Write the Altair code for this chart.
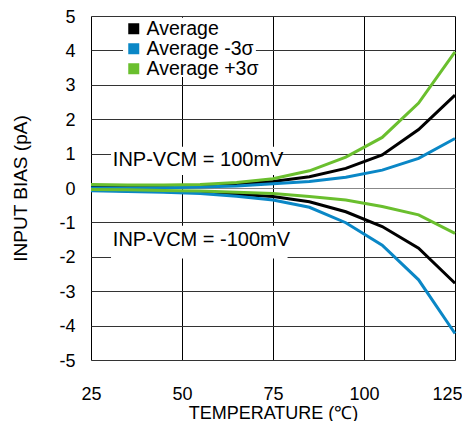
import altair as alt
import pandas as pd

temps = [25, 35, 45, 55, 65, 75, 85, 95, 105, 115, 125]
series_names = ["Average", "Average -3σ", "Average +3σ"]
colors = ["#000000", "#0a87c6", "#6abf2e"]

# INP-VCM = 100mV
pos_avg = [0.03, 0.03, 0.04, 0.06, 0.11, 0.19, 0.33, 0.57, 0.96, 1.70, 2.70]
pos_m3 = [0.00, 0.00, 0.01, 0.03, 0.06, 0.12, 0.19, 0.31, 0.52, 0.86, 1.44]
pos_p3 = [0.10, 0.09, 0.09, 0.10, 0.16, 0.27, 0.50, 0.90, 1.47, 2.47, 3.96]
# INP-VCM = -100mV
neg_avg = [-0.06, -0.08, -0.10, -0.13, -0.18, -0.25, -0.40, -0.69, -1.12, -1.75, -2.77]
neg_m3 = [-0.08, -0.10, -0.12, -0.16, -0.24, -0.35, -0.56, -1.01, -1.66, -2.67, -4.23]
neg_p3 = [-0.04, -0.05, -0.07, -0.09, -0.12, -0.16, -0.25, -0.35, -0.54, -0.78, -1.32]

x_ticks = [25, 50, 75, 100, 125]
y_ticks = [-5, -4, -3, -2, -1, 0, 1, 2, 3, 4, 5]

annot_text = ["INP-VCM = 100mV", "INP-VCM = -100mV"]
annot_x = [31, 31]
annot_y = [0.81, -1.51]
# white backgrounds behind the annotations and the legend
box_x = [30.5, 30.5, 33.8]
box_x2 = [76.5, 79, 70.3]
box_y = [0.38, -1.1, 3.23]
box_y2 = [1.2, -2.05, 4.95]

rows = []
for grp, vals in [("pos", [pos_avg, pos_m3, pos_p3]), ("neg", [neg_avg, neg_m3, neg_p3])]:
    for name, ys in zip(series_names, vals):
        for t, v in zip(temps, ys):
            rows.append({"T": t, "I": v, "series": name, "grp": grp})
df = pd.DataFrame(rows)

ann = pd.DataFrame({"text": annot_text, "x": annot_x, "y": annot_y})
boxdf = pd.DataFrame({"bx": box_x, "bx2": box_x2, "by": box_y, "by2": box_y2})

xscale = alt.Scale(domain=[25, 125], nice=False, zero=False)
yscale = alt.Scale(domain=[-5, 5], nice=False)
cscale = alt.Scale(domain=series_names, range=colors)

FONT = "Liberation Sans"

base_x = alt.X("T:Q", scale=xscale,
               axis=alt.Axis(values=x_ticks, tickCount=5, title="TEMPERATURE (℃)", grid=True,
                             gridColor="#000000", gridWidth=1, ticks=False, domain=False,
                             labelFontSize=18, labelPadding=25, titleFontSize=18,
                             titleFontWeight="normal", titlePadding=1, labelColor="#000",
                             titleColor="#000", labelFont=FONT, titleFont=FONT,
                             labelOverlap=False, labelFlush=False,
                             labelOffset=alt.condition("datum.value == 125", alt.value(-8), alt.value(0))))
base_y = alt.Y("I:Q", scale=yscale,
               axis=alt.Axis(values=y_ticks, tickCount=11, title="INPUT BIAS (pA)", grid=True,
                             gridColor=alt.condition("datum.value == 0", alt.value("#888888"), alt.value("#333333")),
                             gridWidth=1, ticks=False, domain=False,
                             labelFontSize=18, labelPadding=16, titleFontSize=19,
                             titleFontWeight="normal", titlePadding=28, labelColor="#000",
                             titleColor="#000", labelFont=FONT, titleFont=FONT,
                             labelOffset=1,
                             labelOverlap=False, labelExpr="'' + datum.value"))

lines = alt.Chart(df).mark_line(strokeWidth=3).encode(
    x=base_x,
    y=base_y,
    color=alt.Color("series:N", scale=cscale, legend=None),
    detail="grp:N",
)

legend_pts = alt.Chart(df).mark_square(size=121, opacity=0, filled=True).encode(
    x="T:Q",
    y="I:Q",
    color=alt.Color("series:N", scale=cscale,
                    legend=alt.Legend(title=None, orient="none", legendX=33, legendY=3,
                                      symbolType="square", symbolSize=121, symbolOpacity=1,
                                      symbolStrokeWidth=0,
                                      labelFontSize=19.5, labelFont=FONT, labelColor="#000",
                                      rowPadding=-4, symbolOffset=0, labelOffset=3,
                                      padding=0)),
)

boxes = alt.Chart(boxdf).mark_rect(color="white").encode(
    x="bx:Q", x2="bx2", y="by:Q", y2="by2"
)

texts = alt.Chart(ann).mark_text(align="left", baseline="middle", fontSize=20,
                                 font=FONT, color="#000").encode(
    x="x:Q", y="y:Q", text="text:N"
)

chart = alt.layer(boxes, lines, legend_pts, texts).resolve_legend(
    color="independent"
).properties(
    width=364, height=344,
    autosize=alt.AutoSizeParams(type="none"),
    padding={"left": 83, "top": 8, "right": 7, "bottom": 61},
).configure_view(stroke="#000000", strokeWidth=3).configure(background="white")

chart.save("out.html", embed_options={"renderer": "svg", "actions": False})
